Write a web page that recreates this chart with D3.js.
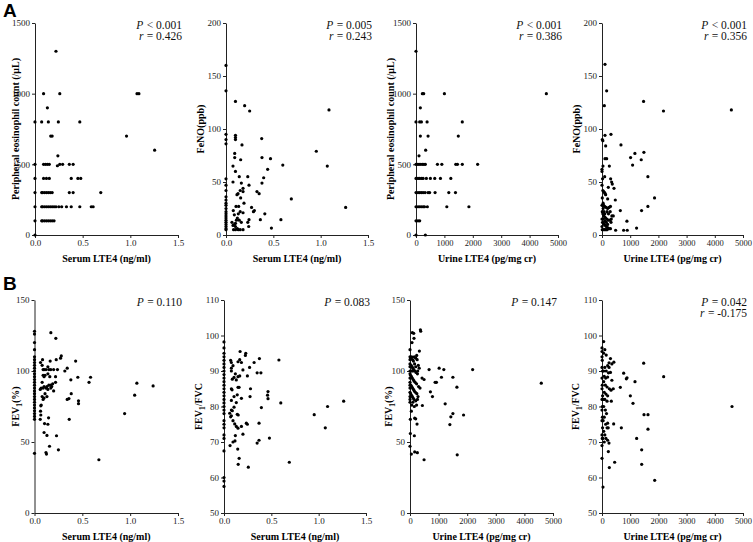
<!DOCTYPE html>
<html><head><meta charset="utf-8">
<script src="https://cdn.jsdelivr.net/npm/d3@7"></script>
<style>body{margin:0;background:#fff}svg{display:block}</style>
</head><body>
<svg id="c" width="753" height="542"></svg>
<script>
// ---- tick values ----
const serumTicks = [0, 0.5, 1.0, 1.5];
const urineTicks = [0, 1000, 2000, 3000, 4000, 5000];
const eosTicks = [0, 500, 1000, 1500];
const fenoTicks = [0, 50, 100, 150, 200];
const fev1Ticks = [0, 50, 100, 150];
const ratioTicks = [50, 60, 70, 80, 90, 100, 110];

// ---- data: [x, y] ----
const serumEos = [[0,0],[0,100],[0,200],[0,300],[0,400],[0,500],[0,800],
[0.22,1300],[0.09,1000],[0.26,1000],[1.07,1000],[1.09,1000],[0.13,900],
[0.07,800],[0.14,800],[0.245,800],[0.47,800],[0.165,700],[0.18,700],[0.96,700],
[1.255,600],[0.24,560],
[0.09,500],[0.11,500],[0.13,500],[0.15,500],[0.235,490],[0.26,500],[0.29,500],[0.36,500],[0.40,500],
[0.09,400],[0.12,400],[0.15,400],[0.38,400],[0.45,400],[0.48,400],
[0.07,300],[0.08,300],[0.1,300],[0.12,300],[0.14,300],[0.16,300],[0.18,300],[0.36,300],[0.40,300],[0.69,300],
[0.07,200],[0.08,200],[0.1,200],[0.12,200],[0.14,200],[0.16,200],[0.18,200],[0.2,200],[0.22,200],[0.25,200],[0.28,200],[0.33,200],[0.38,200],[0.47,200],[0.59,200],[0.61,200],
[0.07,100],[0.08,100],[0.1,100],[0.12,100],[0.14,100],[0.16,100],[0.18,100],[0.2,100]];

const serumFeno = [[0,160],[0,136],[0,95],[0,90],[0,86],[0,53],[0,47],[0,42],[0,36],[0,33],[0,30],[0,28],[0,25],[0,22],[0,20],[0,18],[0,16],[0,14],[0,12],[0,10],[0,8],[0,6],[0,5],
[0.1,126],[0.197,122],[0.25,117],[1.088,118],[0.1,94],[0.1,92],[0.1,90],[0.169,85],[0.377,91],[0.954,79],[0.092,77],[0.092,73],[0.38,73],[0.47,72],[0.155,71],[0.6,66],[1.07,65],[0.074,65],[0.1,60],[0.44,62],[0.23,55],[0.14,55],[0.398,54],[0.074,50],[0.38,49],[0.162,49],[0.243,47],[0.18,44],[0.15,42],[0.18,41],[0.327,41],[0.35,39],[0.116,38],[0.127,39],[0.69,34],[0.155,35],[0.19,30],[1.264,26],[0.27,26],[0.106,27],[0.134,27],[0.3,23],[0.29,22],[0.41,20],[0.077,23],[0.088,19],[0.15,22],[0.18,21],[0.12,16],[0.14,14],[0.243,14.5],[0.363,14.5],[0.58,14.5],[0.063,12],[0.1,11],[0.162,12],[0.23,12],[0.074,9],[0.1,8],[0.24,8],[0.48,6.5],[0.08,5],[0.1,5],[0.13,5],[0.15,5],[0.18,5],[0.12,6],[0.09,10],[0.11,14],[0.13,20]];

const urineEos = [[0,1300],[224,1000],[271,1000],[1000,1000],[4590,1000],[153,900],
[0,800],[130,800],[190,800],[390,800],[1630,800],[153,700],[425,700],[1490,700],[340,600],[106,560],
[0,500],[60,500],[110,500],[170,500],[230,500],[280,500],[330,500],[755,500],[910,500],[1400,500],[1460,500],[1630,500],[2170,500],
[0,400],[70,400],[130,400],[200,400],[250,400],[365,400],[507,400],[660,400],[860,400],[1226,400],
[0,300],[70,300],[130,300],[190,300],[250,300],[320,300],[425,300],[480,300],[672,300],[1155,300],[1390,300],
[0,200],[70,200],[130,200],[190,200],[250,200],[300,200],[400,200],[1085,200],[1863,200],
[0,100],[70,100],[130,100],[0,0],[330,0]];

const urineFeno = [[106,161],[165,136],[83,122],[1474,126],[2180,117],[4587,118],[106,94],[318,95],[10,90],[30,89],[130,84],[672,85],
[1014,73],[1167,77],[1486,78],[1391,71],[1085,66],[106,72],[165,72],[260,65],[35,65],[1627,55],[94,55],
[1863,35],[1627,27],[1403,23],[650,23],[1226,6.5],[884,13],[766,4.5],[896,4.5],[483,4.5],
[472,33],[425,44],[342,50],[365,48],[306,53],[224,45],[200,34],
[0,62],[0,60],[20,53],[0,47],[30,42],[60,41],[90,40],[110,39],[130,38],[10,35],[40,30],[60,28],[90,27],[150,26],[200,25],[250,26],[300,27],[10,22],[30,20],[60,18],[100,17],[130,16],[170,15],[220,14],[280,14],[330,15],[350,18],[400,18],[20,12],[50,11],[80,10],[120,9],[150,8],[200,7],[250,6],[300,6],[10,5],[60,5],[100,5],[140,5],[180,5],[0,8],[0,15],[0,28],[40,25],[70,22],[100,20],[180,22],[230,20],[290,22],[320,12],[200,10],[150,12],[100,13],[50,15]];

const serumFev1 = [[0,128],[0,126],[0,120],[0,115],[0,110],[0,108],[0,106],[0,104],[0,102],[0,100],[0,98],[0,96],[0,94],[0,92],[0,90],[0,88],[0,86],[0,84],[0,82],[0,80],[0,78],[0,76],[0,74],[0,72],[0,70],[0,68],[0,66],[0,42],
[0.171,127],[0.223,123],[0.28,110.6],[0.272,109],[0.227,108],[0.43,107],[0.063,106],[0.084,108],[0.164,107],[0.342,102],[0.317,100],[0.586,95.6],[0.453,95.6],[0.57,92],[1.07,91.4],[1.24,89.5],[1.047,83],[0.38,93.8],[0.384,84],[0.36,80.6],[0.342,80],[0.46,79],[0.46,77],[0.942,70],[0.363,66],[0.673,37.5],[0.25,44.5],[0.12,42.6],[0.125,41.5],[0.157,47],[0.13,54.6],[0.23,54.4],[0.1,56.7],[0.14,62.5],[0.105,63],[0.147,67],[0.06,66],[0.066,69],[0.063,71.7],[0.066,75.5],
[0.08,104],[0.09,101],[0.1,101],[0.12,101],[0.14,103],[0.15,101],[0.17,101],[0.2,101],[0.24,101],[0.09,97],[0.1,96],[0.11,97],[0.14,98],[0.16,96],[0.22,96],[0.08,92],[0.1,89],[0.12,88],[0.15,90],[0.17,90],[0.19,91],[0.22,92],[0.07,88],[0.09,88],[0.13,89],[0.17,88],[0.2,86],[0.11,84],[0.13,82],[0.09,80],[0.1,81],[0.07,76],[0.18,89],[0.06,87],[0.14,87],[0.08,82]];

const serumRatio = [[0,98.2],[0,96.5],[0,95],[0,94],[0,93],[0,92],[0,91],[0,90],[0,89],[0,88],[0,87],[0,86],[0,85],[0,84],[0,83],[0,82],[0,81],[0,80],[0,79],[0,78],[0,76],[0,75],[0,74],[0,72],[0,71],[0,67.5],[0,60],[0,59],[0,57.5],
[0.17,95.5],[0.23,95],[0.226,94.4],[0.374,93.5],[0.58,93.1],[0.318,92.4],[0.27,91],[0.35,89.5],[0.39,89.5],[0.247,88.6],[1.264,81.5],[1.094,80],[0.953,77.7],[1.07,74],[0.6,81],[0.395,79.7],[0.465,84.2],[0.46,83.2],[0.465,82.2],[0.275,82.8],[0.28,85],[0.69,64.3],[0.257,62.9],[0.15,63.7],[0.16,65.4],[0.145,68],[0.48,71.1],[0.37,70.5],[0.35,69.7],[0.37,75.3],[0.236,75.3],[0.064,69],[0.095,70],[0.116,70.3],
[0.07,93],[0.078,92.4],[0.078,90.8],[0.078,90],[0.095,91.5],[0.166,93.2],[0.148,92.6],[0.184,92.4],[0.2,90.3],[0.12,89.2],[0.148,88.4],[0.106,88.2],[0.088,87.7],[0.13,87.5],[0.166,88.6],[0.078,85],[0.085,84.7],[0.148,85.4],[0.159,85.4],[0.14,83.3],[0.106,82.8],[0.184,82.3],[0.078,81.7],[0.13,81.1],[0.106,79.8],[0.078,79],[0.088,78.8],[0.06,78.1],[0.078,77.4],[0.14,77.8],[0.15,77.6],[0.095,76],[0.113,75.1],[0.13,74.4],[0.148,73.9],[0.184,74.4],[0.2,72.2],[0.12,71.8],[0.247,75],[0.07,77.1]];

const urineFev1 = [[0,115],[0,110],[0,108],[0,105],[0,103],[0,100],[0,98],[0,95],[0,92],[0,90],[0,88],[0,85],[0,82],[0,80],[0,78],[12,66],[47,71.7],[12,56],[0,47],[47,41.5],
[364,129],[375,128],[82,127],[130,126.5],[140,123],[70,120],[328,114],[234,111],[667,101],[1019,102],[1183,101],[2190,101],[421,95],[492,94],[1100,95.6],[1500,95.6],[878,92],[925,92],[1640,88.6],[4590,91.4],[714,85.3],[785,82],[433,75.7],[1230,76.9],[1500,70],[1428,67.7],[1873,69],[1394,62.3],[246,62.6],[199,66.3],[164,66.8],[152,54.4],[164,43],[258,42.5],[492,37.5],[1651,41],
[30,109],[60,110],[90,108],[120,107],[150,110],[200,109],[250,108],[290,104],[320,102],[40,104],[70,103],[100,102],[130,101],[170,100],[210,99],[260,98],[20,97],[50,96],[80,95],[110,94],[140,93],[180,92],[230,91],[300,89],[350,88],[30,90],[60,89],[90,88],[120,87],[150,86],[190,85],[240,84],[280,82],[20,84],[50,83],[80,82],[110,81],[140,80],[200,79],[260,80],[100,78],[60,76],[150,75],[230,76],[100,100],[50,100],[160,105],[200,103],[270,100]];

const urineRatio = [[59,98.3],[1478,92.2],[2187,88.4],[4610,80],[768,89.4],[887,88.1],[864,87.8],[1170,87],[650,85.4],[1005,83],[1099,80.9],[1490,77.7],[1631,77.7],[1631,73.6],[686,74],[414,75.1],[1229,71],[1407,67.8],[1407,63.7],[1868,59.2],[449,64.3],[260,62.8],[225,67.3],[248,69.7],[35,57.3],[0,65.4],
[0,96.5],[0,95.5],[0,94],[10,93],[0,91],[20,90],[0,88],[10,86],[0,85],[20,83],[0,82],[10,80],[0,79],[15,77],[0,76],[20,74],[0,72],[10,71],[0,69],
[100,96],[60,95],[150,94.5],[300,93.5],[420,92.5],[350,92],[250,92.3],[200,91.5],[100,91],[60,90],[150,90],[230,89.5],[300,89.6],[80,88.5],[130,88],[200,88.3],[350,87.4],[60,87],[120,86],[180,85.5],[260,85],[320,84.6],[400,85],[80,84],[140,83.5],[200,83],[50,82],[100,82],[180,81.5],[330,81.5],[60,80],[120,79],[160,78],[80,77],[40,76],[130,75],[200,75.3],[180,74],[60,73],[100,72],[140,71],[200,70.5],[30,71],[80,70],[220,74],[250,91]];

// ---- panel specs ----
const panels = [
 {data: serumEos, xd:[0,1.5], xt:serumTicks, xf:d3.format(".1f"), yd:[0,1500], yt:eosTicks, xl:"Serum LTE4 (ng/ml)", yl:[["Peripheral eosinophil count (/μL)"]], P:"< 0.001", r:"0.426"},
 {data: serumFeno, xd:[0,1.5], xt:serumTicks, xf:d3.format(".1f"), yd:[0,200], yt:fenoTicks, xl:"Serum LTE4 (ng/ml)", yl:[["FeNO(ppb)"]], P:"= 0.005", r:"0.243"},
 {data: urineEos, xd:[0,5000], xt:urineTicks, xf:d3.format("d"), yd:[0,1500], yt:eosTicks, xl:"Urine LTE4 (pg/mg cr)", yl:[["Peripheral eosinophil count (/μL)"]], P:"< 0.001", r:"0.386"},
 {data: urineFeno, xd:[0,5000], xt:urineTicks, xf:d3.format("d"), yd:[0,200], yt:fenoTicks, xl:"Urine LTE4 (pg/mg cr)", yl:[["FeNO(ppb)"]], P:"< 0.001", r:"0.356"},
 {data: serumFev1, xd:[0,1.5], xt:serumTicks, xf:d3.format(".1f"), yd:[0,150], yt:fev1Ticks, xl:"Serum LTE4 (ng/ml)", yl:[["FEV"],["1","sub"],["(%)"]], P:"= 0.110", r:null},
 {data: serumRatio, xd:[0,1.5], xt:serumTicks, xf:d3.format(".1f"), yd:[50,110], yt:ratioTicks, xl:"Serum LTE4 (ng/ml)", yl:[["FEV"],["1","sub"],["/FVC"]], P:"= 0.083", r:null},
 {data: urineFev1, xd:[0,5000], xt:urineTicks, xf:d3.format("d"), yd:[0,150], yt:fev1Ticks, xl:"Urine LTE4 (pg/mg cr)", yl:[["FEV"],["1","sub"],["(%)"]], P:"= 0.147", r:null},
 {data: urineRatio, xd:[0,5000], xt:urineTicks, xf:d3.format("d"), yd:[50,110], yt:ratioTicks, xl:"Urine LTE4 (pg/mg cr)", yl:[["FEV"],["1","sub"],["/FVC"]], P:"= 0.042", r:"-0.175"}
];
// layout (pixels)
const boxes = [
 {x0:35, x1:178, y0:23, y1:235, yl:15},
 {x0:226, x1:368, y0:23, y1:235, yl:200},
 {x0:416, x1:558, y0:23, y1:235, yl:390},
 {x0:602, x1:743, y0:23, y1:235, yl:576},
 {x0:34.5, x1:178, y0:300, y1:513, yl:15},
 {x0:224, x1:366, y0:300, y1:513, yl:198},
 {x0:410, x1:553, y0:300, y1:513, yl:388},
 {x0:602, x1:743, y0:300, y1:513, yl:575}
];

const svg = d3.select("#c");
const serif = "'Liberation Serif','Times New Roman',serif";

function stat(g, xr, yb, label, rest) {
  const t = g.append("text").attr("x", xr).attr("y", yb).attr("text-anchor", "end")
    .attr("font-family", serif).attr("font-size", 11.5).attr("fill", "#111")
    .style("white-space", "pre").text(rest);
  const w = t.node().getComputedTextLength();
  g.append("text").attr("x", xr - w - 0.5).attr("y", yb).attr("text-anchor", "end")
    .attr("font-family", serif).attr("font-style", "italic").attr("font-size", 11.5)
    .attr("fill", "#111").text(label);
}

panels.forEach((p, i) => {
  const b = boxes[i];
  const x = d3.scaleLinear().domain(p.xd).range([b.x0, b.x1]);
  const y = d3.scaleLinear().domain(p.yd).range([b.y1, b.y0]);
  const g = svg.append("g");
  const urine = p.xd[1] > 10;

  const xa = g.append("g").attr("transform", `translate(0,${b.y1})`)
    .call(d3.axisBottom(x).tickValues(p.xt).tickFormat(p.xf).tickSize(3).tickSizeOuter(0).tickPadding(2));
  const ya = g.append("g").attr("transform", `translate(${b.x0},0)`)
    .call(d3.axisLeft(y).tickValues(p.yt).tickFormat(d3.format("d")).tickSize(3).tickSizeOuter(0).tickPadding(2));
  [xa, ya].forEach(a => {
    a.selectAll("path,line").attr("stroke", "#222").attr("stroke-width", 1);
    a.selectAll("text").attr("font-family", serif).attr("font-size", 9).attr("fill", "#222");
  });
  if (urine) xa.selectAll("text").attr("font-size", 8.5);

  g.append("g").selectAll("circle").data(p.data).join("circle")
    .attr("cx", d => x(d[0])).attr("cy", d => y(d[1])).attr("r", 1.6).attr("fill", "#000");

  // x title
  g.append("text").attr("x", (b.x0 + b.x1) / 2).attr("y", b.y1 + 27)
    .attr("text-anchor", "middle").attr("font-family", serif).attr("font-weight", "bold")
    .attr("font-size", 10).text(p.xl);
  // y title
  const yt = g.append("text").attr("transform", `translate(${b.yl},${(b.y0 + b.y1) / 2}) rotate(-90)`)
    .attr("text-anchor", "middle").attr("dy", "0.35em").attr("font-family", serif)
    .attr("font-weight", "bold").attr("font-size", 10);
  p.yl.forEach((s, k) => {
    const t = yt.append("tspan").text(s[0]);
    if (s[1] === "sub") { t.attr("font-size", 7.5).attr("dy", "3"); }
    else if (k > 0) { t.attr("dy", "-3"); }
  });
  // annotations
  const ax = b.x1 + 4;
  stat(g, ax, b.y0 + 6, "P", " " + p.P);
  if (p.r) stat(g, ax, b.y0 + 17, "r", " = " + p.r);
});

svg.append("text").attr("x", 3).attr("y", 17).attr("font-family", "'Liberation Sans',Arial,sans-serif")
  .attr("font-weight", "bold").attr("font-size", 19).text("A");
svg.append("text").attr("x", 3).attr("y", 290).attr("font-family", "'Liberation Sans',Arial,sans-serif")
  .attr("font-weight", "bold").attr("font-size", 19).text("B");
</script>
</body></html>
